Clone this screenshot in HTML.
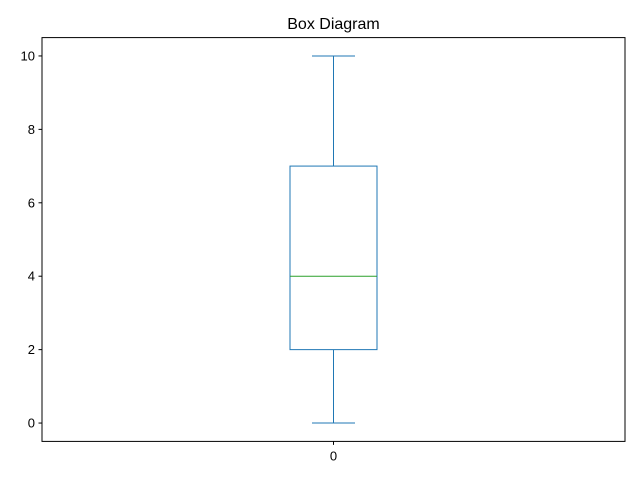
<!DOCTYPE html>
<html><head><meta charset="utf-8"><style>
body{margin:0;background:#fff;}
svg{display:block;font-family:"Liberation Sans","DejaVu Sans",sans-serif;}
</style></head><body>
<svg id="chart" width="640" height="480">
<rect width="640" height="480" fill="#fff"/>
<text x="333.5" y="29" font-size="16" text-anchor="middle">Box Diagram</text>
<g id="plot"></g>
<rect x="42" y="37.6" width="583" height="403.8" fill="none" stroke="#000" stroke-width="1"/>
</svg>
<script>
const categories=["0"];
const whiskerLow=[0];
const q1=[2];
const median=[4];
const q3=[7];
const whiskerHigh=[10];
const yTicks=[0,2,4,6,8,10];
const ns="http://www.w3.org/2000/svg";
const L=42,R=625,T=37.6,B=441.4,ymin=-0.5,ymax=10.5;
const y=v=>B-(v-ymin)/(ymax-ymin)*(B-T);
const x=i=>L+(R-L)*(i+1)/(categories.length+1);
const g=document.getElementById('plot');
function mk(t,a){const e=document.createElementNS(ns,t);for(const k in a)e.setAttribute(k,a[k]);g.appendChild(e);return e;}
yTicks.forEach(v=>{
 const l=mk('line',{x1:L-3.5,x2:L,y1:y(v),y2:y(v),stroke:'#000'});
 
 
 const t=mk('text',{x:L-7,y:y(v)+4.5,'font-size':13,'text-anchor':'end'});t.textContent=v;
 
 
});
categories.forEach((c,i)=>{
 const cx=x(i),bw=87,cw=43,col='#1f77b4';
 const tk=mk('line',{x1:cx,x2:cx,y1:B,y2:B+3.5,stroke:'#000'});
 
 
 const t=mk('text',{x:cx,y:B+19,'font-size':13,'text-anchor':'middle'});t.textContent=c;
 
 
 const box=mk('rect',{x:cx-bw/2,y:y(q3[i]),width:bw,height:y(q1[i])-y(q3[i]),fill:'none',stroke:col});
 
 
 const w1=mk('line',{x1:cx,x2:cx,y1:y(q3[i]),y2:y(whiskerHigh[i]),stroke:col});
 
 
 const w2=mk('line',{x1:cx,x2:cx,y1:y(q1[i]),y2:y(whiskerLow[i]),stroke:col});
 
 
 const c1=mk('line',{x1:cx-cw/2,x2:cx+cw/2,y1:y(whiskerHigh[i]),y2:y(whiskerHigh[i]),stroke:col});
 
 
 const c2=mk('line',{x1:cx-cw/2,x2:cx+cw/2,y1:y(whiskerLow[i]),y2:y(whiskerLow[i]),stroke:col});
 
 
 const m=mk('line',{x1:cx-bw/2,x2:cx+bw/2,y1:y(median[i]),y2:y(median[i]),stroke:'#2ca02c'});
 
 
});
</script>
</body></html>
